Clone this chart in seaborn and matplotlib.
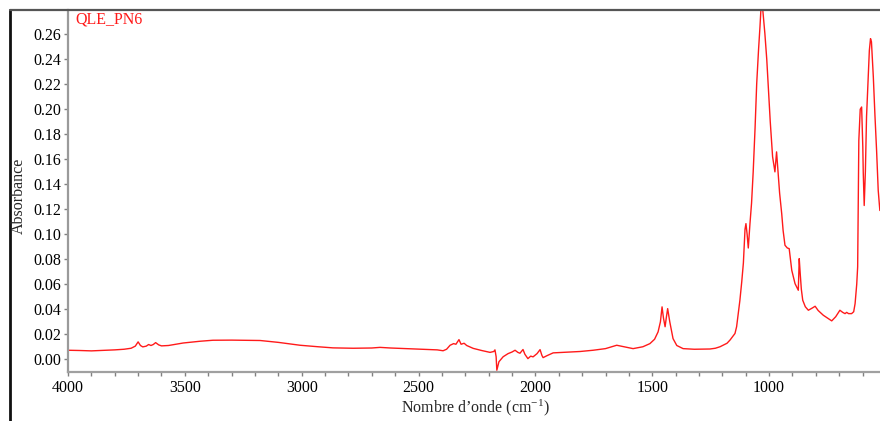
import numpy as np
import pandas as pd
import matplotlib
matplotlib.use("Agg")
import matplotlib.pyplot as plt
from matplotlib.lines import Line2D
from matplotlib.ticker import MultipleLocator, FormatStrFormatter
import seaborn as sns

# IR spectrum of sample QLE_PN6: wavenumber (cm-1) and absorbance
wavenumber = [
    4000, 3950, 3900, 3850, 3800, 3760, 3730, 3712, 3700, 3690, 3680, 3665,
    3655, 3645, 3635, 3625, 3612, 3600, 3570, 3507, 3435, 3380, 3300, 3178,
    3100, 3007, 2930, 2866, 2780, 2700, 2665, 2620, 2550, 2480, 2420, 2395,
    2380, 2365, 2350, 2340, 2327, 2318, 2305, 2294, 2266, 2230, 2194, 2178,
    2173, 2168, 2165, 2156, 2138, 2117, 2100, 2087, 2075, 2066, 2053, 2045,
    2032, 2020, 2010, 1993, 1980, 1972, 1967, 1950, 1924, 1870, 1809, 1753,
    1700, 1652, 1620, 1582, 1540, 1510, 1490, 1475, 1465, 1458, 1452, 1445,
    1440, 1434, 1425, 1411, 1395, 1368, 1320, 1253, 1230, 1210, 1180, 1167,
    1146, 1139, 1125, 1117, 1110, 1103, 1099, 1094, 1089, 1082, 1075, 1068,
    1060, 1053, 1045, 1039, 1032, 1025, 1018, 1010, 1004, 995, 985, 975,
    968, 961, 955, 946, 940, 932, 922, 914, 903, 896, 889, 880,
    875, 871, 867, 862, 856, 845, 832, 815, 803, 790, 768, 750,
    732, 715, 697, 685, 675, 668, 660, 647, 638, 632, 625, 621,
    616, 610, 604, 599, 597, 593, 588, 583, 577, 571, 566, 562,
    554, 547, 540, 533, 526,
]
absorbance = [
    0.0072, 0.0070, 0.0067, 0.0071, 0.0075, 0.0080, 0.0088, 0.0105, 0.0139, 0.0110, 0.0099, 0.0105,
    0.0118, 0.0110, 0.0118, 0.0133, 0.0115, 0.0107, 0.0110, 0.0130, 0.0144, 0.0152, 0.0153, 0.0150,
    0.0135, 0.0112, 0.0100, 0.0091, 0.0088, 0.0090, 0.0095, 0.0090, 0.0085, 0.0080, 0.0075, 0.0068,
    0.0080, 0.0112, 0.0125, 0.0120, 0.0157, 0.0120, 0.0128, 0.0110, 0.0087, 0.0070, 0.0055, 0.0062,
    0.0075, 0.0020, -0.0088, -0.0020, 0.0020, 0.0045, 0.0058, 0.0072, 0.0055, 0.0048, 0.0078, 0.0040,
    0.0005, 0.0025, 0.0019, 0.0045, 0.0077, 0.0030, 0.0013, 0.0029, 0.0051, 0.0056, 0.0062, 0.0072,
    0.0085, 0.0112, 0.0100, 0.0085, 0.0100, 0.0125, 0.0160, 0.0219, 0.0300, 0.0419, 0.0330, 0.0260,
    0.0330, 0.0405, 0.0300, 0.0165, 0.0110, 0.0085, 0.0080, 0.0082, 0.0088, 0.0100, 0.0128, 0.0154,
    0.0206, 0.0260, 0.0470, 0.0620, 0.0770, 0.1040, 0.1085, 0.1000, 0.0890, 0.1080, 0.1250, 0.1500,
    0.1850, 0.2205, 0.2480, 0.2660, 0.2900, 0.2750, 0.2605, 0.2400, 0.2205, 0.1900, 0.1620, 0.1499,
    0.1659, 0.1480, 0.1330, 0.1165, 0.1030, 0.0912, 0.0890, 0.0885, 0.0712, 0.0660, 0.0605, 0.0570,
    0.0552, 0.0805, 0.0690, 0.0560, 0.0472, 0.0420, 0.0392, 0.0410, 0.0424, 0.0390, 0.0352, 0.0330,
    0.0307, 0.0340, 0.0392, 0.0375, 0.0365, 0.0375, 0.0365, 0.0365, 0.0380, 0.0445, 0.0600, 0.0739,
    0.1750, 0.2000, 0.2018, 0.1700, 0.1490, 0.1230, 0.1500, 0.1940, 0.2200, 0.2470, 0.2565, 0.2540,
    0.2260, 0.1950, 0.1670, 0.1350, 0.1190,
]
y_ticks = [round(0.02 * i, 2) for i in range(14)]
x_major = 500
x_minor = 100
sample_name = "QLE_PN6"

sns.set_theme(style="white")
plt.rcParams["font.family"] = ["Liberation Serif", "DejaVu Serif"]
plt.rcParams["mathtext.fontset"] = "custom"
plt.rcParams["mathtext.rm"] = "Liberation Serif"
plt.rcParams["mathtext.it"] = "Liberation Serif:italic"

fs = 11.5
fig = plt.figure(figsize=(8.8, 4.21), dpi=100)
W, H = 880, 421
ax = fig.add_axes([68 / W, 1 - 372 / H, 1 - 68 / W, (372 - 10) / H])

df = pd.DataFrame({"wn": wavenumber, "A": absorbance})
sns.lineplot(data=df, x="wn", y="A", ax=ax, color="#ff1a1a", linewidth=1.0,
             estimator=None, sort=False)

ax.set_xlim(4000, 525.4)
ax.set_ylim(-0.0102, 0.2794)
ax.set_yticks(y_ticks)
ax.yaxis.set_major_formatter(FormatStrFormatter("%.2f"))
ax.xaxis.set_major_locator(MultipleLocator(x_major))
ax.xaxis.set_minor_locator(MultipleLocator(x_minor))
ax.xaxis.set_major_formatter(FormatStrFormatter("%d"))
ax.set_xlabel("")
ax.set_ylabel("")

for side in ("top", "right"):
    ax.spines[side].set_visible(False)
ax.spines["left"].set_color("#9a9a9a")
ax.spines["left"].set_linewidth(1.6)
ax.spines["left"].set_linestyle((0, (1, 1)))
ax.spines["bottom"].set_color("#a0a0a0")
ax.spines["bottom"].set_linewidth(1.6)

ax.tick_params(axis="both", which="major", direction="out", length=3, width=1,
               color="#808080", labelsize=fs, labelcolor="black", pad=2)
ax.tick_params(axis="x", which="minor", direction="out", length=3, width=1,
               color="#808080", bottom=True)
ax.tick_params(axis="x", which="major", pad=3)
ax.tick_params(axis="y", left=True)
ax.tick_params(axis="x", bottom=True)

# outer frame: heavy left edge and thin top rule
fig.add_artist(Line2D([10 / W, 10 / W], [0, 1 - 10 / H], transform=fig.transFigure,
                      color="#111111", linewidth=2.0))
fig.add_artist(Line2D([10 / W, 1], [1 - 10 / H, 1 - 10 / H], transform=fig.transFigure,
                      color="#555555", linewidth=1.6))

fig.text(75 / W, 1 - 19 / H, sample_name, color="#ff1a1a", fontsize=fs,
         ha="left", va="center")
fig.text(19 / W, 1 - 196 / H, "Absorbance", rotation=90, fontsize=fs,
         ha="center", va="center")
fig.text(475 / W, 1 - 408 / H, "Nombre d\u2019onde (cm$^{\\mathrm{-1}}$)", fontsize=fs,
         ha="center", va="center")

fig.savefig("out.png", dpi=100)
